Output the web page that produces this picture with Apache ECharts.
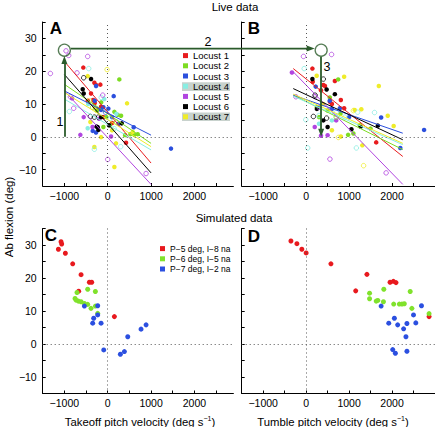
<!DOCTYPE html>
<html><head><meta charset="utf-8">
<script src="https://cdn.jsdelivr.net/npm/echarts@6/dist/echarts.min.js"></script>
<style>html,body{margin:0;padding:0;background:#fff}#c{width:435px;height:427px}</style>
</head><body><div id="c"></div>
<script>
// ---------- DATA ----------
const locustNames = ['Locust 1','Locust 2','Locust 3','Locust 4','Locust 5','Locust 6','Locust 7'];
const simNames = ['P\u22125 deg, I\u22128 na','P\u22126 deg, I\u22125 na','P\u22127 deg, I\u22122 na'];
const xTickVals = [-1000,-500,0,500,1000,1500,2000,2500];
const xLabelVals = [-1000,0,1000,2000];
const yTickVals = [-10,-5,0,5,10,15,20,25,30,35];
const yLabelVals = [-10,0,10,20,30];

// Panel A: takeoff pitch velocity vs ab flexion (live)
const takeoffL1 = [[-563,21.1],[-308,16.5],[-270,15.8],[-170,15.9],[-385,13.2],[-338,11.2],[-460,11.0],[-154,9.2],[-250,8.5],[-100,6.0],[100,4.2],[423,-1.8],[-300,10.3]];
const takeoffL1open = [];
const takeoffL2 = [[268,17.5],[154,7.6],[308,6.4],[231,6.7],[523,0.8],[615,0.6],[692,0.8],[-150,10.5],[-30,6.0],[50,3.5],[-250,8.0],[400,0.5],[-100,3.0]];
const takeoffL2open = [[-350,9.0],[200,4.5]];
const takeoffL3 = [[-269,15.5],[138,12.4],[15,8.6],[-154,8.2],[-270,1.3],[600,2.9],[1460,-3.6],[-100,9.0],[250,4.0],[-300,11.0],[100,6.0],[-346,1.8]];
const takeoffL3open = [[-50,7.5]];
const takeoffL4 = [[-450,10.0],[-80,11.5],[200,7.0],[-462,2.6]];
const takeoffL4open = [[-438,20.8],[-885,7.7],[-308,-3.8],[50,5.5],[-150,12.0],[300,-3.0],[150,2.5]];
const takeoffL5 = [[-823,11.7],[-554,6.0],[-631,0.6],[77,0.1],[-350,3.0],[-200,5.5]];
const takeoffL5open = [[-962,26.2],[-900,24.8],[-462,24.5],[-1323,19.3],[-708,19.5],[-785,8.7],[-115,12.7],[0,-6.9],[885,-11.2],[-862,12.2]];
const takeoffL6 = [[-385,17.6],[-577,14.5],[-554,13.2],[323,4.1],[-231,2.9],[-215,2.1],[-254,3.1],[30,3.5],[-150,6.0]];
const takeoffL6open = [[-554,18.0],[-400,6.2],[-308,6.0],[-215,6.0]];
const takeoffL7 = [[-462,18.5],[446,10.2],[577,1.5],[-154,-0.1],[-308,-3.1],[154,-9.2],[192,-2.0],[-400,4.5],[-300,9.0],[100,2.0]];
const takeoffL7open = [[-15,20.5],[-420,11.0]];

// Panel A regression lines
const takeoffFit1 = [[-1000,23.0],[1000,-8.0]];
const takeoffFit2 = [[-1000,16.0],[1000,-2.0]];
const takeoffFit3 = [[-1000,14.0],[1000,0.5]];
const takeoffFit4 = [[-1000,11.5],[1000,-4.0]];
const takeoffFit5 = [[-1000,14.0],[1000,-14.5]];
const takeoffFit6 = [[-1000,19.0],[1000,-11.0]];
const takeoffFit7 = [[-1000,13.5],[1000,-3.0]];

// Panel B: tumble pitch velocity vs ab flexion (live)
const tumbleL1 = [[146,20.8],[154,16.8],[669,17.0],[400,15.8],[438,15.5],[346,14.2],[808,11.2],[885,8.7],[554,10.7],[1631,-1.7],[600,10.0]];
const tumbleL1open = [];
const tumbleL2 = [[746,17.5],[1246,3.6],[977,0.6],[550,12.0],[800,7.0],[300,6.0],[1100,1.0],[500,8.0],[250,9.0],[1500,2.5]];
const tumbleL2open = [[700,6.0]];
const tumbleL3 = [[223,15.3],[785,8.7],[1746,5.9],[2192,-3.4],[2746,2.1],[550,11.0],[300,9.0],[600,8.5],[1000,6.0]];
const tumbleL3open = [];
const tumbleL4 = [[300,4.0],[600,5.0]];
const tumbleL4open = [[-46,20.8],[-8,5.2],[38,-3.4],[1592,7.4],[1169,-3.4],[300,6.5],[900,6.0],[1200,7.5],[700,7.5]];
const tumbleL5 = [[-331,19.6],[346,0.3],[500,0.5],[200,3.0],[700,5.0]];
const tumbleL5open = [[-62,24.5],[592,25.1],[208,12.2],[554,-6.8],[1862,-11.0],[-238,12.2],[300,9.0]];
const tumbleL6 = [[146,17.6],[477,14.4],[669,13.0],[1054,2.3],[1269,3.1],[1669,3.4],[500,3.0],[400,5.0],[250,8.5]];
const tumbleL6open = [[400,17.6],[208,12.7],[169,6.2],[477,5.7]];
const tumbleL7 = [[246,18.6],[885,18.3],[1692,15.5],[1285,8.4],[1900,6.4],[2038,3.3],[808,0.1],[1308,-2.6],[1131,8.2],[400,10.0],[600,2.0]];
const tumbleL7open = [[1338,-8.8],[1100,8.0],[750,-0.2]];

// Panel B regression lines
const tumbleFit1 = [[-300,20.8],[2250,-6.0]];
const tumbleFit2 = [[-300,12.7],[2250,-3.9]];
const tumbleFit3 = [[-300,12.7],[2250,1.1]];
const tumbleFit4 = [[-300,12.4],[2250,-2.4]];
const tumbleFit5 = [[-300,19.8],[2250,-14.5]];
const tumbleFit6 = [[-300,14.7],[2250,-0.9]];
const tumbleFit7 = [[-300,13.0],[2250,-2.0]];

// Panel C: simulated takeoff
const simTakeoffP5 = [[-1077,31.0],[-1062,30.3],[-1138,28.7],[-977,27.5],[-808,24.3],[-615,21.0],[-669,16.0],[-423,18.7],[-369,18.7],[154,8.3]];
const simTakeoffP6 = [[-708,15.6],[-462,16.6],[-285,15.9],[-754,13.8],[-731,13.3],[-677,13.0],[-615,12.8],[-538,12.3],[-462,12.0],[-385,10.8],[-285,11.5],[-231,9.3]];
const simTakeoffP7 = [[-538,11.5],[-231,11.6],[-231,8.8],[-323,7.8],[-346,6.3],[-154,6.3],[-92,-1.8],[292,-3.1],[385,-2.3],[462,2.2],[769,4.5],[885,5.8]];
// Panel D: simulated tumble
const simTumbleP5 = [[-354,31.2],[-215,30.4],[-100,28.7],[0,27.6],[577,24.3],[1415,21.1],[1954,18.7],[2031,19.0],[2092,18.6],[1154,16.1],[2862,8.3]];
const simTumbleP6 = [[1477,15.4],[1477,13.7],[1631,13.0],[1669,13.2],[1808,16.6],[1800,12.8],[2038,12.1],[2169,12.1],[2231,12.1],[2285,12.2],[2423,15.9],[2462,10.8],[2862,9.2]];
const simTumbleP7 = [[1746,11.5],[2685,11.6],[2500,8.8],[1923,6.3],[2054,7.8],[2131,5.8],[2346,6.2],[2554,6.4],[2269,4.6],[2323,2.2],[2015,-1.7],[2077,-2.8],[2346,-2.2]];

// annotation anchors
const circleA = [[-1000,26.4]];
const circleB = [[350,26.4]];
const arrow1 = [[-1000,0],[-1000,23.4]];
const arrow3 = [[350,24.4],[350,1.2]];
const arrow2Y = 26.9;

// ---------- STYLE ----------
const FF = '"Liberation Sans", Arial, Helvetica, sans-serif';
const DKG = '#2b5b2b';
const colors = ['#e81c1e','#7ddc22','#2b4fdd','#88eee2','#b145e0','#000000','#efec2a'];
const simColors = ['#e8191e','#80e22c','#2b4fe0'];

const takeoffF = [takeoffL1,takeoffL2,takeoffL3,takeoffL4,takeoffL5,takeoffL6,takeoffL7];
const takeoffO = [takeoffL1open,takeoffL2open,takeoffL3open,takeoffL4open,takeoffL5open,takeoffL6open,takeoffL7open];
const takeoffFits = [takeoffFit1,takeoffFit2,takeoffFit3,takeoffFit4,takeoffFit5,takeoffFit6,takeoffFit7];
const tumbleF = [tumbleL1,tumbleL2,tumbleL3,tumbleL4,tumbleL5,tumbleL6,tumbleL7];
const tumbleO = [tumbleL1open,tumbleL2open,tumbleL3open,tumbleL4open,tumbleL5open,tumbleL6open,tumbleL7open];
const tumbleFits = [tumbleFit1,tumbleFit2,tumbleFit3,tumbleFit4,tumbleFit5,tumbleFit6,tumbleFit7];
const simC = [simTakeoffP5,simTakeoffP6,simTakeoffP7];
const simD = [simTumbleP5,simTumbleP6,simTumbleP7];

function fmt(v){ return v<0 ? '\u2212'+Math.abs(v) : String(v); }
function xAxisCfg(gi,min,max){
  return {type:'value',gridIndex:gi,min:min,max:max,interval:500,
    axisLine:{show:true,onZero:false,lineStyle:{color:'#000',width:1}},
    axisTick:{show:true,inside:true,length:3,lineStyle:{color:'#000',width:1},customValues:xTickVals},
    axisLabel:{show:true,customValues:xLabelVals,formatter:function(v){return xLabelVals.indexOf(v)>=0?fmt(v):'';},
      color:'#000',fontSize:10.5,fontFamily:FF,margin:4},
    splitLine:{show:false}};
}
function yAxisCfg(gi,labels){
  return {type:'value',gridIndex:gi,min:-15,max:35,interval:5,
    axisLine:{show:true,onZero:false,lineStyle:{color:'#000',width:1}},
    axisTick:{show:true,inside:true,length:3,lineStyle:{color:'#000',width:1},customValues:yTickVals},
    axisLabel:{show:labels,customValues:yLabelVals,formatter:function(v){return yLabelVals.indexOf(v)>=0?fmt(v):'';},
      color:'#000',fontSize:10.5,fontFamily:FF,margin:6},
    splitLine:{show:false}};
}
function filled(name,gi,data,color,size){
  return {type:'scatter',name:name,xAxisIndex:gi,yAxisIndex:gi,data:data,symbol:'circle',symbolSize:size||4.5,
    itemStyle:{color:color,opacity:1},silent:true,z:3,animation:false};
}
function open(name,gi,data,color){
  return {type:'scatter',name:name+' ',xAxisIndex:gi,yAxisIndex:gi,data:data,symbol:'circle',symbolSize:4.5,
    itemStyle:{color:'rgba(255,255,255,0)',borderColor:color,borderWidth:1},silent:true,z:3,animation:false};
}
function fit(name,gi,data,color){
  return {type:'line',name:name,xAxisIndex:gi,yAxisIndex:gi,data:data,showSymbol:false,symbol:'none',
    lineStyle:{color:color,width:1},silent:true,z:4,animation:false};
}
function zeroLines(gi){
  return {type:'line',name:'zero'+gi,xAxisIndex:gi,yAxisIndex:gi,data:[],silent:true,animation:false,
    markLine:{silent:true,symbol:['none','none'],label:{show:false},animation:false,
      lineStyle:{color:'#555',type:[1,3],width:1},
      data:[{xAxis:0},{yAxis:0}]}};
}

const series = [];
[0,1,2,3].forEach(g=>series.push(zeroLines(g)));
locustNames.forEach((n,i)=>{
  series.push(filled(n,0,takeoffF[i],colors[i]));
  series.push(filled(n,1,tumbleF[i],colors[i]));
});
locustNames.forEach((n,i)=>{
  series.push(open(n,0,takeoffO[i],colors[i]));
  series.push(open(n,1,tumbleO[i],colors[i]));
  series.push(fit('fitA'+i,0,takeoffFits[i],colors[i]));
  series.push(fit('fitB'+i,1,tumbleFits[i],colors[i]));
});
simNames.forEach((n,i)=>{
  series.push(filled(n,2,simC[i],simColors[i],5));
  series.push(filled(n,3,simD[i],simColors[i],5));
});
// annotation circles and arrows
series.push({type:'scatter',name:'circleA',xAxisIndex:0,yAxisIndex:0,data:circleA,symbol:'circle',symbolSize:12,
  itemStyle:{color:'rgba(0,0,0,0)',borderColor:DKG,borderWidth:1.3},silent:true,z:6,animation:false,
  markLine:{silent:true,animation:false,symbol:['none','triangle'],symbolSize:[6,8],label:{show:false},
    lineStyle:{color:DKG,width:1.8,type:'solid'},
    data:[[{coord:arrow1[0]},{coord:arrow1[1]}]]}});
series.push({type:'scatter',name:'circleB',xAxisIndex:1,yAxisIndex:1,data:circleB,symbol:'circle',symbolSize:12,
  itemStyle:{color:'rgba(0,0,0,0)',borderColor:DKG,borderWidth:1.3},silent:true,z:6,animation:false,
  markLine:{silent:true,animation:false,symbol:['none','triangle'],symbolSize:[6,8],label:{show:false},
    lineStyle:{color:DKG,width:1.8,type:'solid'},
    data:[[{coord:arrow3[0]},{coord:arrow3[1]}]]}});

const txt = (text,x,y,opt)=>Object.assign({type:'text',x:x,y:y,silent:true,z:10,
  style:Object.assign({text:text,fill:'#000',font:'11.5px '+FF,textAlign:'center',textVerticalAlign:'middle'},opt||{})});

const baseGraphics = [
  {type:'rect',shape:{x:182,y:82.3,width:48,height:8.6},style:{fill:'#c8d2cd'},z:1,silent:true},
  {type:'rect',shape:{x:182,y:112.5,width:48,height:8.6},style:{fill:'#c8d2cd'},z:1,silent:true},
  txt('Live data',235,7),
  txt('Simulated data',234,218),
  Object.assign(txt('Ab flexion (deg)',9,217),{rotation:Math.PI/2}),
  {type:'text',x:140,y:421.5,silent:true,z:10,style:{text:'{a|Takeoff pitch velocity (deg s}{b|\u22121}{a|)}',
    textAlign:'center',textVerticalAlign:'middle',rich:{a:{fontSize:11.3,fontFamily:FF,fill:'#000',color:'#000'},
    b:{fontSize:7,fontFamily:FF,fill:'#000',color:'#000',verticalAlign:'top',padding:[0,0,6,0]}}}},
  {type:'text',x:333,y:421.5,silent:true,z:10,style:{text:'{a|Tumble pitch velocity (deg s}{b|\u22121}{a|)}',
    textAlign:'center',textVerticalAlign:'middle',rich:{a:{fontSize:11.3,fontFamily:FF,fill:'#000',color:'#000'},
    b:{fontSize:7,fontFamily:FF,fill:'#000',color:'#000',verticalAlign:'top',padding:[0,0,6,0]}}}},
  txt('A',56,28.5,{font:'bold 17px '+FF}),
  txt('B',254,28,{font:'bold 17px '+FF}),
  txt('C',51,235.5,{font:'bold 17px '+FF}),
  txt('D',254,236,{font:'bold 17px '+FF}),
  txt('1',60,122,{font:'12.5px '+FF}),
  txt('2',208,42,{font:'12.5px '+FF}),
  txt('3',327,67,{font:'12.5px '+FF})
];

const option = {
  animation:false,
  backgroundColor:'#fff',
  textStyle:{fontFamily:FF},
  grid:[
    {left:42.7,top:22,width:190.7,height:164},
    {left:241.7,top:22,width:195,height:164},
    {left:42.7,top:228.5,width:190.7,height:165},
    {left:241.7,top:228.5,width:195,height:165}
  ],
  xAxis:[xAxisCfg(0,-1500,2900),xAxisCfg(1,-1500,3000),xAxisCfg(2,-1500,2900),xAxisCfg(3,-1500,3000)],
  yAxis:[yAxisCfg(0,true),yAxisCfg(1,false),yAxisCfg(2,true),yAxisCfg(3,false)],
  legend:[
    {data:locustNames.map(n=>({name:n,icon:'rect'})),orient:'vertical',left:183,top:50.5,padding:0,itemGap:0,
     itemWidth:5,itemHeight:5,selectedMode:false,z:5,
     textStyle:{fontSize:9.5,fontFamily:FF,color:'#000',lineHeight:10.2}},
    {data:simNames.map(n=>({name:n,icon:'rect'})),orient:'vertical',left:160,top:243.5,padding:0,itemGap:0,
     itemWidth:5,itemHeight:5,selectedMode:false,z:5,
     textStyle:{fontSize:8.5,fontFamily:FF,color:'#000',lineHeight:10.2}}
  ],
  graphic:{elements:baseGraphics},
  series:series
};

const chart = echarts.init(document.getElementById('c'),null,{renderer:'svg',width:435,height:427});
chart.setOption(option);

// horizontal arrow 2 linking the circled points across panels A and B
const pA = chart.convertToPixel({gridIndex:0},[circleA[0][0],arrow2Y]);
const pB = chart.convertToPixel({gridIndex:1},[circleB[0][0],arrow2Y]);
const x0 = pA[0]+6.5, x1 = pB[0]-6.5, yy = pA[1];
chart.setOption({graphic:{elements:baseGraphics.concat([
  {type:'line',shape:{x1:x0,y1:yy,x2:x1-7,y2:yy},style:{stroke:DKG,lineWidth:1.8},z:7,silent:true},
  {type:'polygon',shape:{points:[[x1,yy],[x1-8,yy-3],[x1-8,yy+3]]},style:{fill:DKG},z:7,silent:true}
])}});
</script></body></html>
